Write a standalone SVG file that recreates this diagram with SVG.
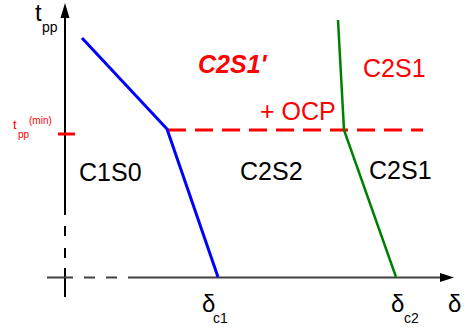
<svg xmlns="http://www.w3.org/2000/svg" width="468" height="329" viewBox="0 0 468 329">
<style>
text{font-family:"Liberation Sans",Arial,sans-serif}
.big{font-size:25px}
.ax{font-size:24px;fill:#000}
.sub{font-size:14px;fill:#000}
.red{fill:#ff0000}
.blk{fill:#000}
.yaxis{stroke:#000;stroke-width:2;fill:none}
.xaxis{stroke:#404040;stroke-width:2;fill:none}
</style>
<rect width="468" height="329" fill="#fff"/>
<g id="axes">
<line class="yaxis" x1="65" y1="16" x2="65" y2="215"/>
<line class="yaxis" x1="65" y1="226" x2="65" y2="236"/>
<line class="yaxis" x1="65" y1="248" x2="65" y2="258"/>
<line class="yaxis" x1="65" y1="268" x2="65" y2="297"/>
<polygon points="65,3 60.5,18 69.5,18" fill="#000"/>
<line class="xaxis" x1="47" y1="277.5" x2="73" y2="277.5"/>
<line class="xaxis" x1="84" y1="277.5" x2="95" y2="277.5"/>
<line class="xaxis" x1="106" y1="277.5" x2="117" y2="277.5"/>
<line class="xaxis" x1="128" y1="277.5" x2="441" y2="277.5"/>
<polygon points="454,277.5 440,273 440,282" fill="#000"/>
<line x1="58" y1="134" x2="75" y2="134" stroke="#ff0000" stroke-width="3"/>
</g>
<g id="connectors">
<line id="tpp-min" x1="168" y1="130" x2="423" y2="130" stroke="#ff0000" stroke-width="3" stroke-dasharray="18 9"/>
<polyline id="blue-curve" points="82,38 167,129 218,277" fill="none" stroke="#0000ff" stroke-width="3"/>
<polyline id="green-curve" points="338,20 344,130 396,277" fill="none" stroke="#008000" stroke-width="2.5"/>
</g>
<g id="axis-labels">
<text class="ax" x="35" y="21">t</text>
<text x="42" y="32" font-size="14">pp</text>
<text class="red" x="13" y="129" font-size="13">t</text>
<text class="red" x="18" y="138" font-size="10">pp</text>
<text class="red" x="29" y="124" font-size="10">(min)</text>
<text class="ax" x="202" y="312">δ</text>
<text class="sub" x="213" y="323">c1</text>
<text class="ax" x="391" y="312">δ</text>
<text class="sub" x="404" y="323">c2</text>
<text class="ax" x="448" y="312">δ</text>
</g>
<g id="C2S1prime"><text class="big red" x="198" y="73" font-weight="bold" font-style="italic">C2S1'</text></g>
<g id="C2S1-red"><text class="big red" x="363" y="77">C2S1</text></g>
<g id="OCP"><text class="big red" x="260" y="120">+ OCP</text></g>
<g id="C1S0"><text class="big blk" x="79" y="181">C1S0</text></g>
<g id="C2S2"><text class="big blk" x="240" y="180">C2S2</text></g>
<g id="C2S1"><text class="big blk" x="369" y="179">C2S1</text></g>
</svg>
